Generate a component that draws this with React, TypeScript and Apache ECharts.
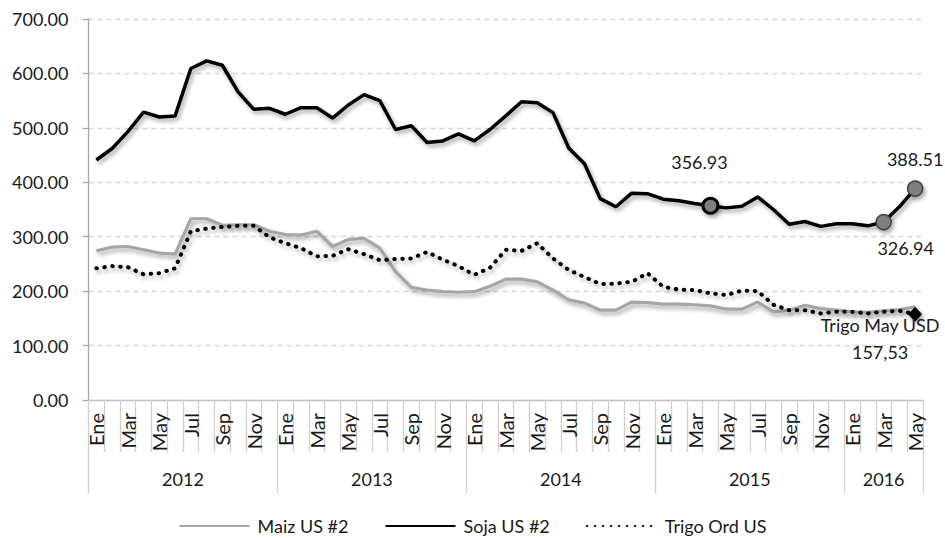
import React, { useEffect, useRef } from 'react';
import * as echarts from 'echarts';

const monthNames = ['Ene', 'Feb', 'Mar', 'Abr', 'May', 'Jun', 'Jul', 'Ago', 'Sep', 'Oct', 'Nov', 'Dic'];
const years = ['2012', '2013', '2014', '2015', '2016'];
const monthsPerYear = [12, 12, 12, 12, 5];

const maiz = [274, 281, 282, 276, 270, 268, 333, 333, 321, 322, 322, 310,
  304, 303, 310, 282, 295, 297, 279, 236, 207, 202, 199, 198,
  199, 209, 222, 222, 217, 202, 184, 178, 165, 165, 180, 179,
  176, 176, 175, 173, 167, 167, 180, 162, 165, 174, 168, 165,
  162, 161, 164, 166, 171];

const soja = [441, 462, 493, 529, 520, 522, 609, 623, 615, 566, 534, 536,
  525, 537, 537, 518, 542, 561, 550, 497, 504, 473, 476, 489,
  476, 497, 522, 548, 546, 528, 463, 434, 370, 355, 380, 379,
  369, 366, 361, 356.93, 353, 356, 373, 350, 323, 328, 319, 324,
  324, 320, 326.94, 355, 388.51];

const trigo = [242, 246, 244, 231, 233, 242, 310, 315, 318, 320, 320, 299,
  288, 279, 264, 265, 277, 268, 257, 259, 260, 272, 258, 246,
  230, 243, 276, 274, 288, 260, 239, 226, 213, 214, 217, 233,
  208, 203, 202, 196, 193, 201, 200, 175, 165, 165, 159, 162,
  162, 159, 162, 164, 157.53];

const seriesNames = ['Maiz US #2', 'Soja US #2', 'Trigo Ord US'];
const sojaMarkIdx = [39, 50, 52];
const trigoMarkIdx = 52;
const trigoMarkLabel = 'Trigo May USD\n157,53';

const categories: string[] = [];
years.forEach((_, k) => {
  for (let m = 0; m < monthsPerYear[k]; m++) categories.push(monthNames[m]);
});
const yearBounds: number[] = [0];
monthsPerYear.forEach((n) => yearBounds.push(yearBounds[yearBounds.length - 1] + n));
const yearCenters = years.map((_, k) => (yearBounds[k] + yearBounds[k + 1]) / 2);

const FONT = 'Lato';
const TXT = '#1a1a1a';
const shadow = { shadowColor: 'rgba(0,0,0,0.35)', shadowBlur: 4, shadowOffsetX: 2, shadowOffsetY: 3 };

export default function App() {
  const ref = useRef<HTMLDivElement>(null);
  useEffect(() => {
    if (!ref.current) return;
    const chart = echarts.init(ref.current, undefined, { renderer: 'svg' });
    const sojaMarkStyles = [
      { size: 15, border: '#000', bw: 3, offset: [-11, -44] },
      { size: 15, border: '#404040', bw: 1.5, offset: [22, 26] },
      { size: 15, border: '#404040', bw: 1.5, offset: [0, -30] },
    ];
    chart.setOption({
      animation: false,
      textStyle: { fontFamily: FONT },
      grid: { left: 88.5, right: 22, top: 19, bottom: 138, containLabel: false },
      legend: {
        left: 'center',
        top: 517,
        itemWidth: 70,
        itemHeight: 14,
        itemGap: 36,
        padding: 0,
        itemStyle: { opacity: 0 },
        textStyle: { fontFamily: FONT, fontSize: 18, color: TXT, padding: [0, 0, 0, 3] },
        data: seriesNames,
      },
      xAxis: [
        {
          type: 'category',
          data: categories,
          boundaryGap: true,
          axisLine: { show: true, lineStyle: { color: '#c4c4c4', width: 1.3 } },
          axisTick: { show: true, interval: 0, length: 52, lineStyle: { color: '#cfcfcf', width: 1.3 } },
          axisLabel: { interval: 1, rotate: 90, margin: 13, fontSize: 20, fontFamily: FONT, color: TXT },
          splitLine: { show: false },
        },
        {
          type: 'value',
          position: 'bottom',
          offset: 52,
          min: 0,
          max: yearBounds[yearBounds.length - 1],
          axisLine: { show: false },
          axisTick: { show: true, customValues: yearBounds, length: 41, lineStyle: { color: '#cfcfcf', width: 1.3 } },
          axisLabel: {
            customValues: yearCenters,
            margin: 18,
            fontSize: 18,
            fontFamily: FONT,
            color: TXT,
            formatter: (v: number) => {
              const k = yearCenters.findIndex((c) => Math.abs(c - v) < 0.01);
              return k >= 0 ? years[k] : '';
            },
          },
          splitLine: { show: false },
        },
      ],
      yAxis: {
        type: 'value',
        min: 0,
        max: 700,
        interval: 100,
        axisLine: { show: true, lineStyle: { color: '#a6a6a6', width: 1.3 } },
        axisTick: { show: true, length: 6, lineStyle: { color: '#a6a6a6', width: 1.3 } },
        axisLabel: { margin: 20, fontSize: 18, fontFamily: FONT, color: TXT, formatter: (v: number) => v.toFixed(2) },
        splitLine: { show: true, lineStyle: { color: '#d6d6d6', type: [5, 4], width: 1.3 } },
      },
      series: [
        {
          name: seriesNames[0],
          type: 'line',
          data: maiz,
          symbol: 'none',
          lineStyle: { color: '#a6a6a6', width: 3.2, ...shadow },
          itemStyle: { color: '#a6a6a6' },
          z: 2,
        },
        {
          name: seriesNames[1],
          type: 'line',
          data: soja,
          symbol: 'none',
          lineStyle: { color: '#000', width: 3.5, ...shadow },
          itemStyle: { color: '#000' },
          z: 3,
          markPoint: {
            animation: false,
            data: sojaMarkIdx.map((i, k) => ({
              coord: [i, soja[i]],
              symbol: 'circle',
              symbolSize: sojaMarkStyles[k].size,
              itemStyle: { color: '#7f7f7f', borderColor: sojaMarkStyles[k].border, borderWidth: sojaMarkStyles[k].bw, opacity: 1, ...shadow },
              label: {
                show: true,
                position: 'inside',
                offset: sojaMarkStyles[k].offset,
                formatter: soja[i].toFixed(2),
                fontSize: 18,
                fontFamily: FONT,
                color: TXT,
              },
            })),
          },
        },
        {
          name: seriesNames[2],
          type: 'line',
          data: trigo,
          symbol: 'none',
          lineStyle: { color: '#000', width: 4, type: [0.5, 7.5], cap: 'round', ...shadow },
          itemStyle: { color: '#000' },
          z: 4,
          markPoint: {
            animation: false,
            data: [
              {
                coord: [trigoMarkIdx, trigo[trigoMarkIdx]],
                symbol: 'diamond',
                symbolSize: [14, 15],
                itemStyle: { color: '#000', opacity: 1, ...shadow },
                label: {
                  show: true,
                  position: 'inside',
                  offset: [-35, 24],
                  formatter: trigoMarkLabel,
                  lineHeight: 27,
                  align: 'center',
                  fontSize: 18,
                  fontFamily: FONT,
                  color: TXT,
                },
              },
            ],
          },
        },
      ],
    });
    return () => chart.dispose();
  }, []);
  return <div ref={ref} style={{ position: 'absolute', left: 0, top: 0, width: 945, height: 538 }} />;
}
